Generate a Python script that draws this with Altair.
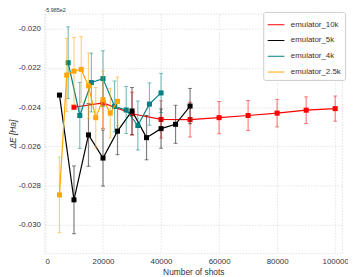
import altair as alt
import pandas as pd

series_names = ["emulator_10k", "emulator_5k", "emulator_4k", "emulator_2.5k"]
series_colors = ["#ff0000", "#000000", "#008080", "#ffa500"]

shots_10k = [10000, 20000, 30000, 40000, 50000, 60000, 70000, 80000, 90000, 100000]
de_10k = [-0.02401, -0.02379, -0.02434, -0.02463, -0.02464, -0.02454, -0.02443, -0.02431, -0.02416, -0.02408]
err_10k = [0.0, 0.0013, 0.0011, 0.00095, 0.00089, 0.00082, 0.00076, 0.0007, 0.00068, 0.00064]

shots_5k = [5000, 10000, 15000, 20000, 25000, 30000, 35000, 40000, 45000, 50000]
de_5k = [-0.02339, -0.02873, -0.02542, -0.02660, -0.02523, -0.02420, -0.02556, -0.02510, -0.02488, -0.02395]
err_5k = [0.0, 0.00173, 0.0016, 0.00143, 0.0012, 0.0012, 0.00113, 0.001, 0.00097, 0.0009]

shots_4k = [8000, 12000, 16000, 20000, 24000, 28000, 32000, 36000, 40000]
de_4k = [-0.02174, -0.02443, -0.02275, -0.02255, -0.02397, -0.02415, -0.02494, -0.02385, -0.02328]
err_4k = [0.00183, 0.00168, 0.0015, 0.00142, 0.0013, 0.0012, 0.00125, 0.00108, 0.001]

shots_2_5k = [5000, 7500, 10000, 12500, 15000, 17500, 20000, 22500, 25000]
de_2_5k = [-0.02848, -0.02237, -0.02217, -0.02208, -0.02292, -0.02454, -0.02362, -0.02431, -0.02371]
err_2_5k = [0.00193, 0.00187, 0.00172, 0.00167, 0.00167, 0.00154, 0.00146, 0.00126, 0.00124]

x_ticks = [0, 20000, 40000, 60000, 80000, 100000]
y_ticks = [-0.030, -0.028, -0.026, -0.024, -0.022, -0.020]
offset_label = "-5.985e2"

FONT = "Liberation Sans"

all_x = [shots_10k, shots_5k, shots_4k, shots_2_5k]
all_y = [de_10k, de_5k, de_4k, de_2_5k]
all_e = [err_10k, err_5k, err_4k, err_2_5k]

x_scale = alt.Scale(domain=[-170, 102380], nice=False, zero=False)
y_scale = alt.Scale(domain=[-0.03146, -0.01925], nice=False, zero=False)
color_scale = alt.Scale(domain=series_names, range=series_colors)

x_axis = alt.Axis(values=x_ticks, format="d", title="Number of shots")
y_axis = alt.Axis(values=y_ticks, title="\u0394E [Ha]",
                  labelExpr="replace(format(datum.value, '.3f'), '\u2212', '-')",
                  titleX=-27, titleY=121.5)

legend = alt.Legend(
    title=None,
    orient="none",
    legendX=222,
    legendY=-2,
    symbolType="stroke",
    symbolSize=289,
    symbolStrokeWidth=1,
    symbolOpacity=1,
    labelFont=FONT,
    labelFontSize=8,
    labelColor="#333333",
    labelOffset=6,
    padding=4,
    rowPadding=3,
    fillColor="rgba(255,255,255,0.85)",
    strokeColor="#cccccc",
    cornerRadius=2,
)
color_enc = alt.Color("series:N", scale=color_scale, legend=legend)

layers = []
for i, (name, xs, ys, es) in enumerate(zip(series_names, all_x, all_y, all_e)):
    df = pd.DataFrame({
        "series": name,
        "shots": xs,
        "dE": ys,
        "lo": [y - e for y, e in zip(ys, es)],
        "hi": [y + e for y, e in zip(ys, es)],
    })
    base = alt.Chart(df)
    bars = base.mark_rule(strokeWidth=1.2, opacity=0.5).encode(
        x=alt.X("shots:Q", scale=x_scale, axis=x_axis),
        y=alt.Y("lo:Q", scale=y_scale, axis=y_axis),
        y2="hi:Q",
        color=color_enc,
    )
    cap_lo = base.mark_tick(orient="horizontal", size=4, thickness=1, opacity=0.5).encode(
        x=alt.X("shots:Q", scale=x_scale),
        y=alt.Y("lo:Q", scale=y_scale),
        color=color_enc,
    )
    cap_hi = base.mark_tick(orient="horizontal", size=4, thickness=1, opacity=0.5).encode(
        x=alt.X("shots:Q", scale=x_scale),
        y=alt.Y("hi:Q", scale=y_scale),
        color=color_enc,
    )
    line = base.mark_line(strokeWidth=1.2).encode(
        x=alt.X("shots:Q", scale=x_scale),
        y=alt.Y("dE:Q", scale=y_scale),
        color=color_enc,
    )
    pts = base.mark_square(size=26, opacity=1, filled=True).encode(
        x=alt.X("shots:Q", scale=x_scale),
        y=alt.Y("dE:Q", scale=y_scale),
        color=color_enc,
    )
    layers += [bars, cap_lo, cap_hi, line, pts]

offset_text = alt.Chart(pd.DataFrame({"t": [offset_label]})).mark_text(
    align="left", baseline="bottom", fontSize=5.5, font=FONT, color="#333333", dy=-1
).encode(x=alt.value(0), y=alt.value(0), text="t:N")
layers.append(offset_text)

chart = alt.layer(*layers).properties(
    width=302,
    height=243,
    autosize=alt.AutoSizeParams(type="none"),
    padding={"left": 37, "top": 4, "right": 6, "bottom": 22},
    background="white",
).configure_view(
    stroke="#d8d8d8", strokeDash=[1.5, 1.5], strokeWidth=0.8
).configure_axis(
    grid=True,
    gridColor="#dcdcdc",
    gridDash=[1.5, 1.5],
    gridWidth=0.8,
    domain=False,
    ticks=False,
    labelFont=FONT,
    labelFontSize=8,
    labelColor="#333333",
    titleFont=FONT,
    titleFontSize=8.5,
    titleColor="#333333",
    titleFontWeight="normal",
).configure_axisX(
    labelPadding=4, titlePadding=2
).configure_axisY(
    labelPadding=4, titleFontStyle="italic"
)

chart.save("out.html", embed_options={"renderer": "svg", "actions": False})
